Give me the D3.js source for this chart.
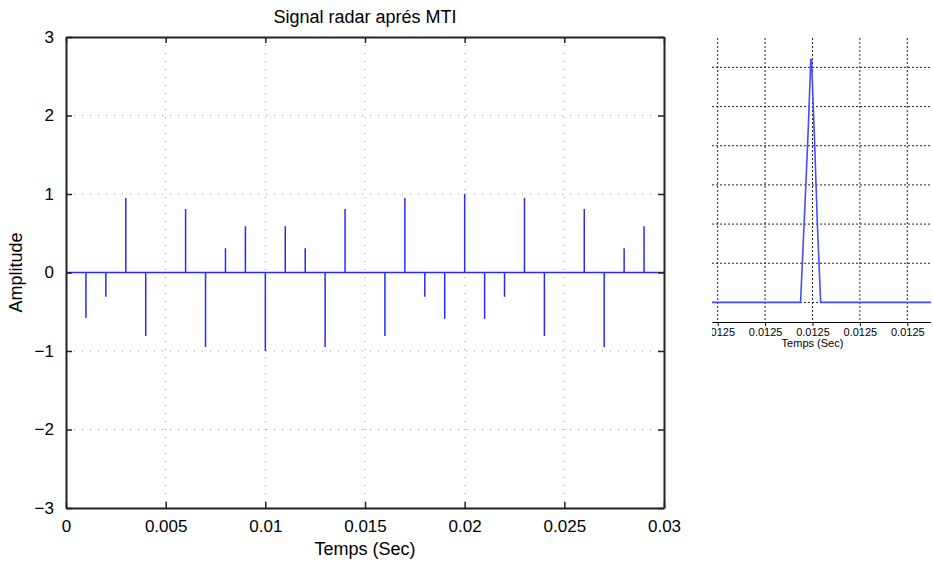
<!DOCTYPE html>
<html>
<head>
<meta charset="utf-8">
<script src="https://cdn.jsdelivr.net/npm/d3@7"></script>
<style>
  body { margin: 0; background: #fff; }
  svg { display: block; font-family: "Liberation Sans", Arial, sans-serif; }
  .main .tick text { font-size: 17px; fill: #000; }
  .inset .tick text { font-size: 11px; fill: #000; }
</style>
</head>
<body>
<svg id="chart" width="933" height="565"></svg>
<script>
// main chart: MTI output sampled every 1 ms
const sampleTimes = d3.range(0, 31).map(i => i / 1000);
const amplitudes = [0, -0.58, -0.31, 0.95, -0.81, 0, 0.81, -0.95, 0.31, 0.59,
  -1.0, 0.59, 0.31, -0.95, 0.81, 0, -0.81, 0.95, -0.31, -0.59,
  1.0, -0.59, -0.31, 0.95, -0.81, 0, 0.81, -0.95, 0.31, 0.59, 0];
const xTicks = [0, 0.005, 0.01, 0.015, 0.02, 0.025, 0.03];
const yTicks = [-3, -2, -1, 0, 1, 2, 3];

// inset: zoom on a single pulse (offset from 0.0125 s, in ns)
const insetOffsets = [-20, -1.26, -0.98, -0.7, -0.42, -0.18, -0.1, 0.2, 0.5, 0.86, 25];
const insetAmps = [0, 0, 0.3, 0.6, 0.92, 1.24, 1.24, 0.85, 0.42, 0, 0];
const insetXTicks = [-10, -5, 0, 5, 10];
const insetYTicks = [0, 0.2, 0.4, 0.6, 0.8, 1.0, 1.2];

const svg = d3.select("#chart");

const m = { left: 66, right: 269, top: 37, bottom: 57 };
const W = 933 - m.left - m.right;
const H = 565 - m.top - m.bottom;

const x = d3.scaleLinear().domain([0, 0.03]).range([0, W]);
const y = d3.scaleLinear().domain([-3, 3]).range([H, 0]);

const g = svg.append("g").attr("class", "main")
  .attr("transform", `translate(${m.left},${m.top})`);

// dotted grid
g.append("g").selectAll("line").data(xTicks.slice(1, -1)).join("line")
  .attr("x1", d => x(d)).attr("x2", d => x(d)).attr("y1", 0).attr("y2", H)
  .attr("stroke", "#999").attr("stroke-width", 1).attr("stroke-dasharray", "1,7");
g.append("g").selectAll("line").data(yTicks.slice(1, -1)).join("line")
  .attr("y1", d => y(d)).attr("y2", d => y(d)).attr("x1", 0).attr("x2", W)
  .attr("stroke", "#999").attr("stroke-width", 1).attr("stroke-dasharray", "1,7");

// signal: one vertical spike per sample
const pts = [];
sampleTimes.forEach((t, i) => { pts.push([t, 0], [t, amplitudes[i]], [t, 0]); });
g.append("path").datum(pts)
  .attr("fill", "none").attr("stroke", "#2a2aff").attr("stroke-width", 1.5)
  .attr("d", d3.line().x(d => x(d[0])).y(d => y(d[1])));

// axes (ticks inward, box)
const fmtY = d => d < 0 ? "\u2212" + Math.abs(d) : d;
const xAxis = g.append("g").attr("transform", `translate(0,${H})`)
  .call(d3.axisBottom(x).tickValues(xTicks).tickSizeInner(-6).tickSizeOuter(0).tickPadding(12)
    .tickFormat(d => d === 0 ? "0" : String(+d.toFixed(3))));
const yAxis = g.append("g")
  .call(d3.axisLeft(y).tickValues(yTicks).tickSizeInner(-6).tickSizeOuter(0).tickPadding(12).tickFormat(fmtY));
const xTop = g.append("g")
  .call(d3.axisTop(x).tickValues(xTicks).tickSizeInner(-6).tickSizeOuter(0).tickFormat(""));
const yRight = g.append("g").attr("transform", `translate(${W},0)`)
  .call(d3.axisRight(y).tickValues(yTicks).tickSizeInner(-6).tickSizeOuter(0).tickFormat(""));
[xAxis, yAxis, xTop, yRight].forEach(a => {
  a.select(".domain").attr("stroke", "#222").attr("stroke-width", 2);
  a.selectAll(".tick line").attr("stroke", "#222").attr("stroke-width", 1.5);
});
xAxis.selectAll(".tick text").attr("dy", "0.71em");

g.append("text").attr("x", W / 2).attr("y", -14).attr("text-anchor", "middle")
  .attr("font-size", 18).text("Signal radar aprés MTI");
g.append("text").attr("x", W / 2).attr("y", H + 47).attr("text-anchor", "middle")
  .attr("font-size", 18).text("Temps (Sec)");
g.append("text").attr("transform", `translate(${-44},${H / 2}) rotate(-90)`)
  .attr("text-anchor", "middle").attr("font-size", 18).text("Amplitude");

// ----- inset -----
const im = { left: 712, top: 38, right: 931, bottom: 322 };
const iW = im.right - im.left;
const iH = im.bottom - im.top;
const ix = d3.scaleLinear().domain([-10.6, 12.5]).range([0, iW]);
const iy = d3.scaleLinear().domain([-0.1, 1.35]).range([iH, 0]);

svg.append("clipPath").attr("id", "insetClip")
  .append("rect").attr("x", 0).attr("y", -2).attr("width", iW).attr("height", iH + 40);

const ig = svg.append("g").attr("class", "inset")
  .attr("transform", `translate(${im.left},${im.top})`)
  .attr("clip-path", "url(#insetClip)");

ig.append("g").selectAll("line").data(insetXTicks).join("line")
  .attr("x1", d => ix(d)).attr("x2", d => ix(d)).attr("y1", 0).attr("y2", iH)
  .attr("stroke", "#222").attr("stroke-width", 1).attr("stroke-dasharray", "2,2");
ig.append("g").selectAll("line").data(insetYTicks).join("line")
  .attr("y1", d => iy(d)).attr("y2", d => iy(d)).attr("x1", 0).attr("x2", iW)
  .attr("stroke", "#222").attr("stroke-width", 1).attr("stroke-dasharray", "2,2");

ig.append("path").datum(insetOffsets.map((o, i) => [o, insetAmps[i]]))
  .attr("fill", "none").attr("stroke", "#4a4aff").attr("stroke-width", 1.6)
  .attr("d", d3.line().x(d => ix(d[0])).y(d => iy(d[1])));

const iAxis = ig.append("g").attr("transform", `translate(0,${iH})`)
  .call(d3.axisBottom(ix).tickValues(insetXTicks).tickSizeInner(4).tickSizeOuter(0).tickPadding(2)
    .tickFormat(d => (0.0125 + d * 1e-9).toFixed(4)));
iAxis.select(".domain").attr("stroke", "#000").attr("stroke-width", 1);
iAxis.selectAll(".tick line").attr("stroke", "#000");

svg.append("text").attr("x", im.left + ix(0)).attr("y", 347).attr("text-anchor", "middle")
  .attr("font-size", 11).text("Temps (Sec)");
</script>
</body>
</html>
